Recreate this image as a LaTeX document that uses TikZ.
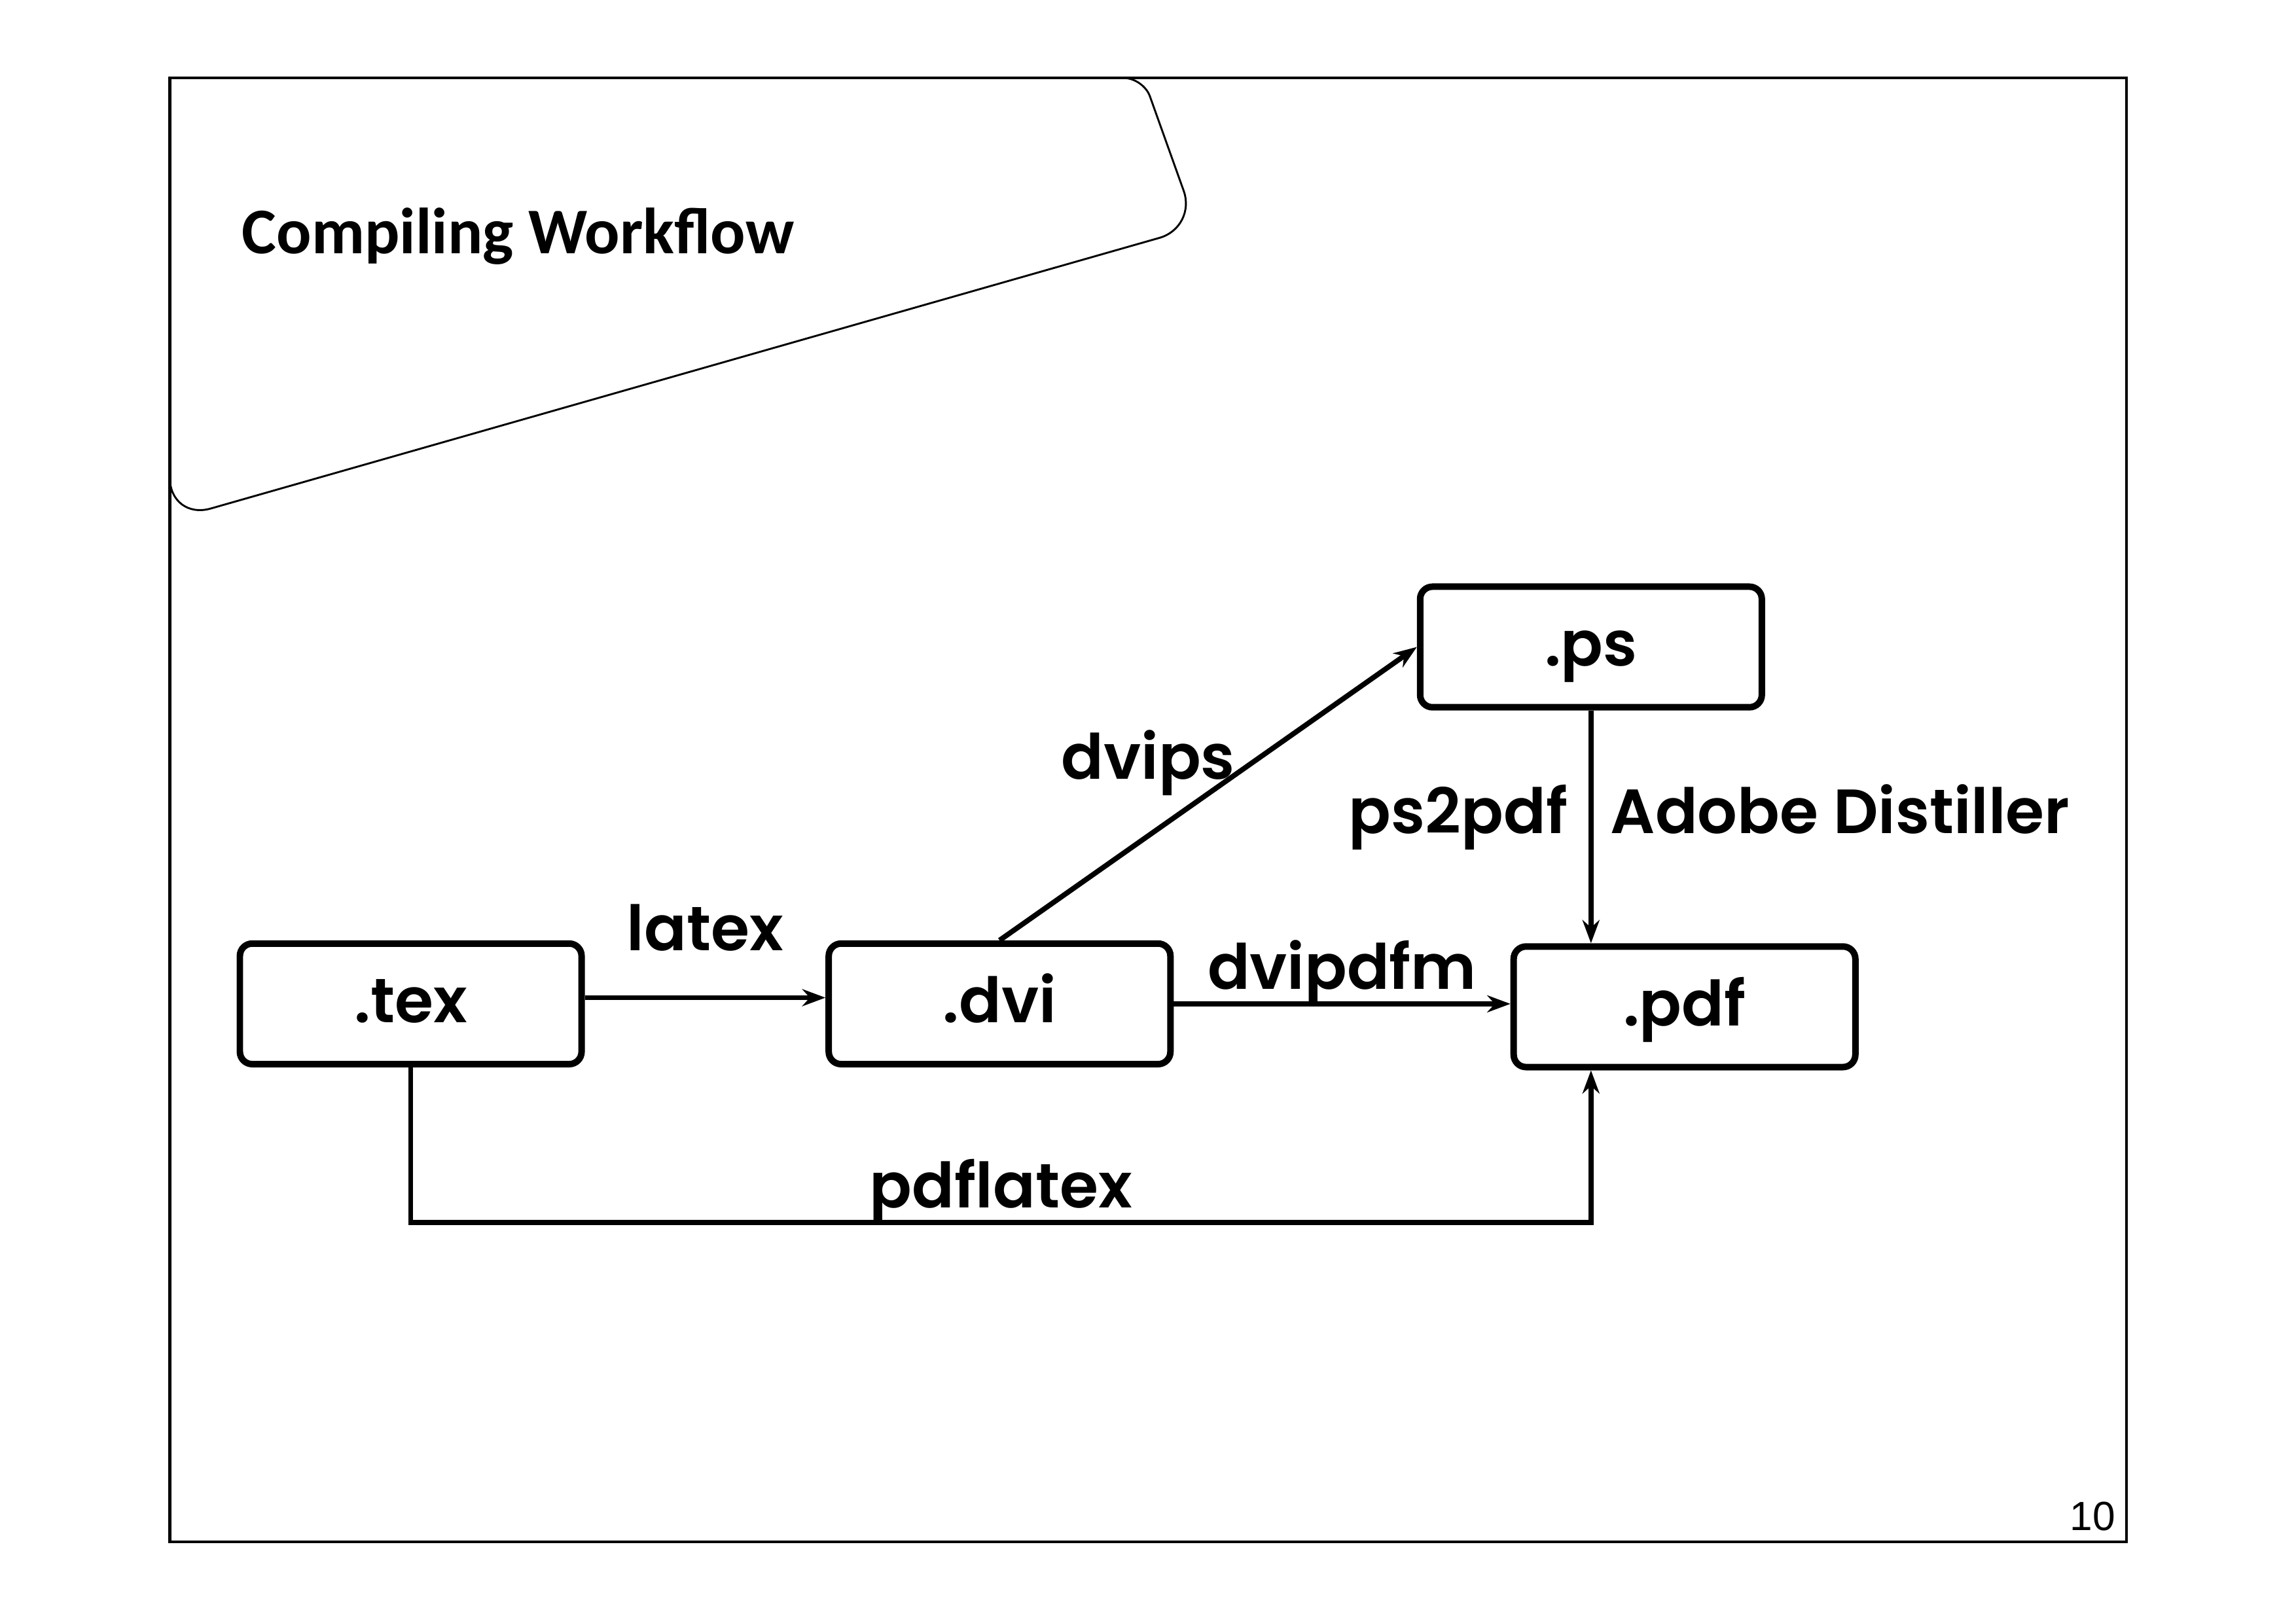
\documentclass[tikz,border=0pt]{standalone}
\usepackage{fontspec}
\setmainfont{Poppins}[BoldFont={Poppins SemiBold}]
\newfontfamily\titlefont{Carlito}
\newfontfamily\numfont{Liberation Sans}
\newcommand\gothic{\fontsize{23}{28}\selectfont\bfseries}
\usetikzlibrary{arrows.meta}

\begin{document}
\begin{tikzpicture}[
    >={Stealth[length=0.3cm,width=0.22cm]},
    file/.style={draw, line width=2.4pt, rounded corners=0.16cm,
        minimum width=4.42cm, minimum height=1.56cm, font=\gothic,
        text height=19pt, text depth=5pt},
    tool/.style={font=\gothic, inner sep=2pt,
        text height=7.5pt, text depth=2.5pt},
    flow/.style={->, line width=1.9pt}
]

    % Seite und Rahmen
    \useasboundingbox (0,0) rectangle (29.70,20.99);
    \draw[line width=1pt] (2.197,1.042) rectangle (27.504,19.98);

    % Titelfeld
    \draw[line width=0.7pt]
        (2.197,19.98) [rounded corners=0.25cm] -- (14.79,19.98)
        [rounded corners=0.5cm] -- (15.48,18.05)
        [rounded corners=0.55cm] -- (2.197,14.26) -- (2.197,19.98);
    \node[anchor=base west, inner sep=0pt,
        font=\titlefont\bfseries\fontsize{24}{29}\selectfont]
        (title) at (3.125,17.71) {Compiling Workflow};

    % Dateien
    \node[file] (tex) at (5.313,8.003) {.tex};
    \node[file] (dvi) at (12.93,8.003) {.dvi};
    \node[file] (ps)  at (20.58,12.62) {.ps};
    \node[file] (pdf) at (21.79,7.965) {.pdf};

    % Werkzeuge
    \draw[flow] ([yshift=0.08cm]tex.east) -- ([yshift=0.08cm]dvi.west)
        node[tool, midway, above=0.42cm] {latex};
    \draw[flow] (dvi.east) -- (dvi.east -| pdf.west)
        node[tool, midway, above] {dvipdfm};
    \draw[flow] (dvi.north) -- (ps.west)
        node[tool, midway, above left, xshift=0.45cm] {dvips};
    \draw[flow] (ps.south) -- (ps.south |- pdf.north)
        node[tool, pos=0.5, left=0.2cm] {ps2pdf}
        node[tool, pos=0.5, right=0.15cm] {Adobe Distiller};

    % pdflatex direkt
    \coordinate (low) at (0,5.171);
    \draw[flow] (tex.south) |- node[tool, pos=0.75, above] {pdflatex}
        (ps.south |- low) -- (ps.south |- pdf.south);

    % Seitenzahl
    \node[anchor=base east, inner sep=0pt,
        font=\numfont\fontsize{15}{18}\selectfont]
        (pagenum) at (27.37,1.193) {10};

\end{tikzpicture}
\end{document}
